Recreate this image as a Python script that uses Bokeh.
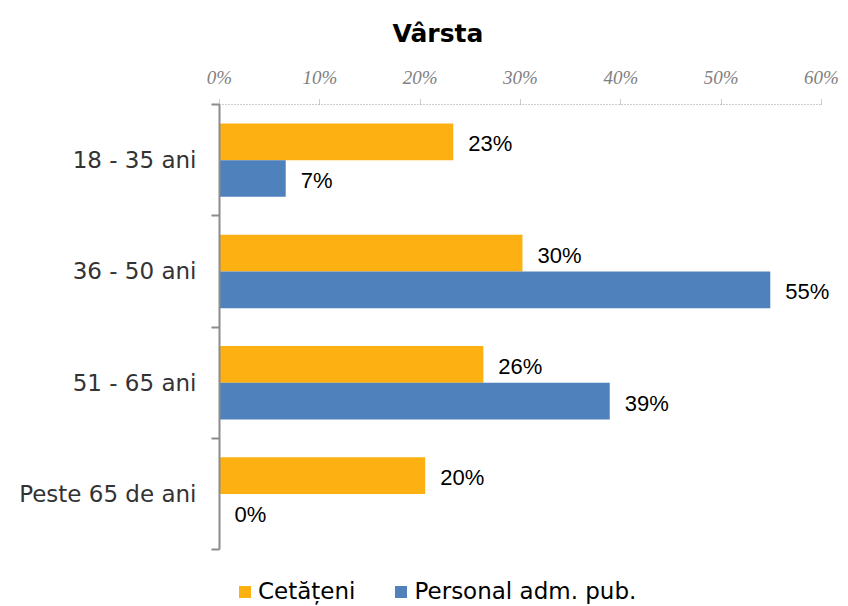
from bokeh.plotting import figure
from bokeh.models import (ColumnDataSource, Range1d, LinearAxis, FixedTicker,
                          PrintfTickFormatter, LabelSet, Legend, LegendItem)
from bokeh.core.properties import value
from bokeh.transform import dodge
from bokeh.embed import file_html
from bokeh.resources import INLINE

# ---- data ----
categories = ["18 - 35 ani", "36 - 50 ani", "51 - 65 ani", "Peste 65 de ani"]
cetateni = [23.3, 30.2, 26.3, 20.5]
personal = [6.6, 54.9, 38.9, 0.0]
series_names = ["Cetățeni", "Personal adm. pub."]
x_ticks = [0, 10, 20, 30, 40, 50, 60]

ORANGE = "#FDB012"
BLUE = "#4F81BD"

n = len(categories)
pos = [i + 0.5 for i in range(n)]
src = ColumnDataSource(dict(
    y=pos,
    cet=cetateni,
    per=personal,
    cet_lbl=[f"{round(v)}%" for v in cetateni],
    per_lbl=[f"{round(v)}%" for v in personal],
))

# frame extends below the category area so the legend can live inside it
p = figure(frame_width=621, frame_height=503, output_backend="svg", toolbar_location=None,
           x_range=Range1d(start=0, end=61.9), y_range=Range1d(start=n * 1.13, end=0.0),
           x_axis_location=None, y_axis_location=None,
           min_border_left=219, min_border_right=0,
           min_border_top=103, min_border_bottom=0)
p.outline_line_color = None
p.xgrid.visible = False
p.ygrid.visible = False

# title
p.title.text = "Vârsta"
p.title.text_font = "DejaVu Sans"
p.title.text_font_size = "25px"
p.title.text_font_style = "bold"
p.title.text_color = "#000000"
p.title.align = "left"
p.title.offset = 173
p.title.standoff = 32

# top x axis
xa = LinearAxis(ticker=FixedTicker(ticks=x_ticks), bounds=(0, 60),
                formatter=PrintfTickFormatter(format="%d%%"))
xa.axis_line_color = "#9a9a9a"
xa.axis_line_dash = "1 2"
xa.axis_line_width = 1
xa.major_tick_line_color = "#9a9a9a"
xa.major_tick_line_dash = "1 1"
xa.major_tick_out = 5
xa.major_tick_in = 0
xa.minor_tick_line_color = None
xa.major_label_text_font = "Liberation Serif"
xa.major_label_text_font_style = "italic"
xa.major_label_text_font_size = "19px"
xa.major_label_text_color = "#808080"
xa.major_label_standoff = 12
p.add_layout(xa, "above")

# left y axis
ya = LinearAxis(ticker=FixedTicker(ticks=pos, minor_ticks=[float(i) for i in range(n + 1)]),
                bounds=(0, n))
ya.major_label_overrides = {v: c for v, c in zip(pos, categories)}
ya.axis_line_color = "#8c8c8c"
ya.axis_line_width = 2
ya.major_tick_line_color = None
ya.minor_tick_line_color = "#8c8c8c"
ya.minor_tick_line_width = 2
ya.minor_tick_out = 8
ya.minor_tick_in = 0
ya.major_label_text_font = "DejaVu Sans"
ya.major_label_text_font_size = "23px"
ya.major_label_text_color = "#333333"
ya.major_label_standoff = 15
p.add_layout(ya, "left")

bar_h = 0.33
r1 = p.hbar(y=dodge("y", -bar_h / 2), right="cet", left=0, height=bar_h,
            source=src, color=ORANGE, line_color=None)
r2 = p.hbar(y=dodge("y", bar_h / 2), right="per", left=0, height=bar_h,
            source=src, color=BLUE, line_color=None)

for xcol, lcol, off in [("cet", "cet_lbl", -bar_h / 2), ("per", "per_lbl", bar_h / 2)]:
    ls = LabelSet(x=xcol, y=dodge("y", off), text=lcol, source=src,
                  x_offset=15, y_offset=-2, text_baseline="middle",
                  text_font=value("Liberation Sans"), text_font_size="22px",
                  text_color="#000000")
    p.add_layout(ls)

legend = Legend(items=[LegendItem(label=series_names[0], renderers=[r1]),
                       LegendItem(label=series_names[1], renderers=[r2])],
                orientation="horizontal", location=(18, 3),
                border_line_color=None, background_fill_alpha=0,
                glyph_width=15, glyph_height=15, label_standoff=6,
                spacing=38, padding=0, margin=0,
                label_text_font="DejaVu Sans", label_text_font_size="23px",
                label_text_color="#000000")
p.add_layout(legend)

open("out.html", "w").write(file_html(p, INLINE))
